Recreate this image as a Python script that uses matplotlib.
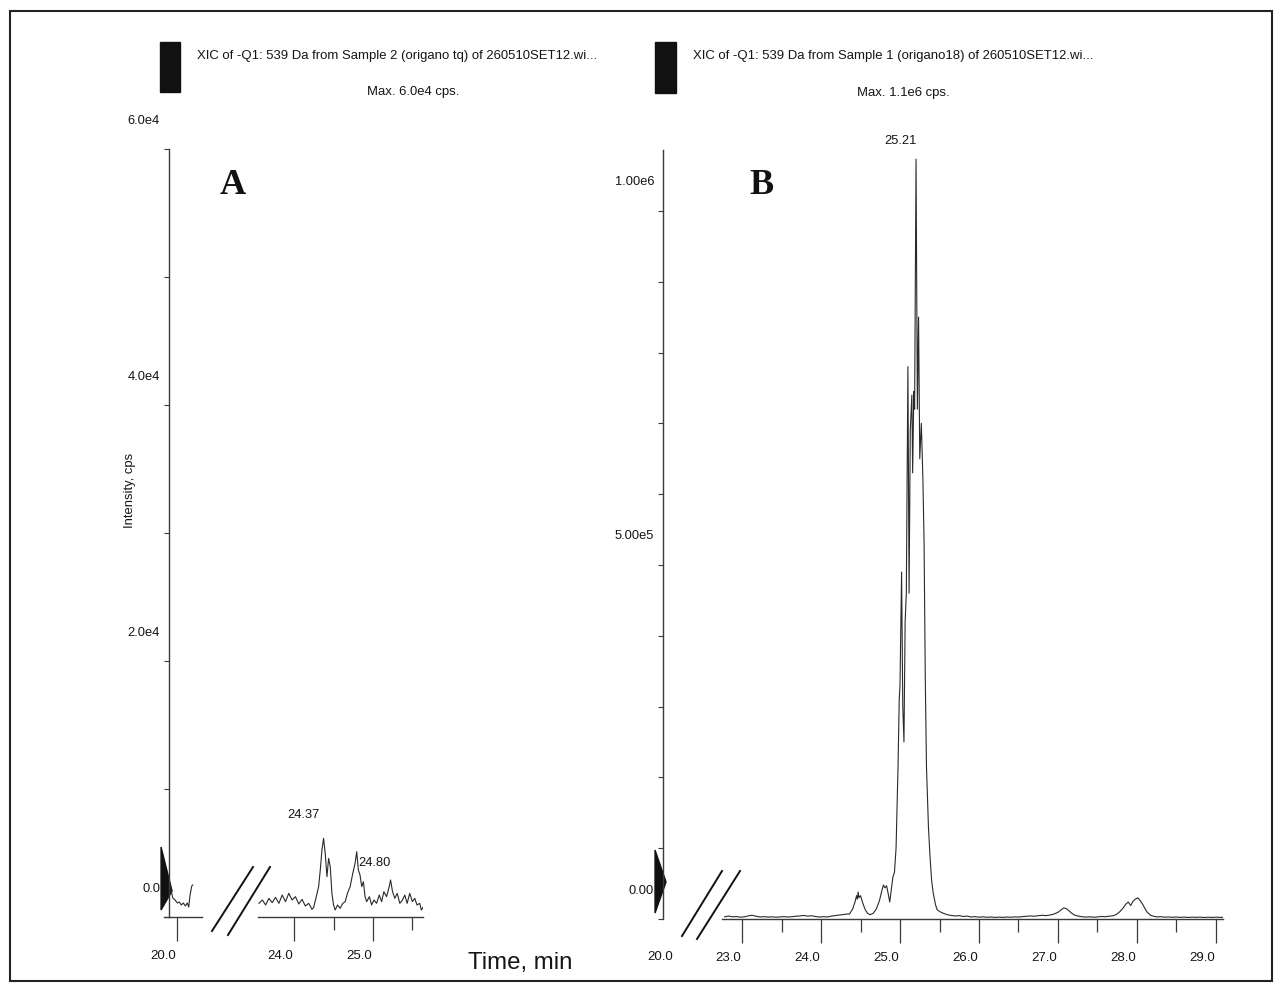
import matplotlib
matplotlib.use("Agg")
import matplotlib.pyplot as plt
from matplotlib.patches import Rectangle, Polygon
from matplotlib.lines import Line2D
from matplotlib.transforms import ScaledTranslation, Affine2D

plt.rcParams['font.family'] = ['Liberation Sans', 'DejaVu Sans']

# panel A, first piece of the broken time axis (around 20 min)
a1_time = [19.911, 19.946, 19.975, 20.004, 20.029, 20.054, 20.080, 20.105, 20.130, 20.148, 20.165, 20.186, 20.199]
a1_int = [2500, 1484, 1328, 1094, 1172, 938, 1094, 859, 1094, 781, 1719, 2422, 2500]

# panel A, second piece (23.5 - 25.6 min)
a2_time = [23.548, 23.591, 23.633, 23.675, 23.717, 23.759, 23.802, 23.844, 23.886, 23.928,
           23.970, 24.013, 24.055, 24.097, 24.139, 24.181, 24.224, 24.245, 24.278, 24.308,
           24.329, 24.350, 24.371, 24.392, 24.414, 24.435, 24.456, 24.477, 24.498, 24.519,
           24.549, 24.582, 24.616, 24.646, 24.675, 24.709, 24.743, 24.772, 24.793, 24.814,
           24.835, 24.857, 24.878, 24.899, 24.920, 24.954, 24.983, 25.013, 25.046, 25.080,
           25.110, 25.139, 25.173, 25.207, 25.224, 25.249, 25.278, 25.308, 25.342, 25.376,
           25.405, 25.435, 25.468, 25.502, 25.532, 25.561, 25.595, 25.616, 25.637]
a2_int = [1068, 1328, 938, 1458, 1120, 1536, 1068, 1719, 1198, 1849,
          1328, 1589, 1016, 1380, 859, 1068, 599, 755, 1589, 2370,
          3672, 5234, 6146, 4974, 3151, 4583, 3932, 1849, 938, 547,
          938, 677, 1068, 1198, 1849, 2370, 3411, 4193, 5104, 3672,
          3281, 2370, 2760, 1589, 1198, 1589, 938, 1328, 1068, 1719,
          1198, 1979, 1589, 2370, 2891, 1979, 1458, 1849, 1068, 1328,
          1719, 1068, 1849, 1198, 1458, 938, 1068, 547, 755]

# panel B
b_time = [22.78, 22.83, 22.88, 22.93, 22.98, 23.03, 23.08, 23.13, 23.18, 23.23,
          23.28, 23.33, 23.38, 23.43, 23.48, 23.53, 23.58, 23.63, 23.68, 23.73,
          23.78, 23.83, 23.88, 23.93, 23.98, 24.03, 24.08, 24.13, 24.18, 24.23,
          24.28, 24.32, 24.36, 24.40, 24.43, 24.45, 24.46, 24.47, 24.48, 24.50,
          24.53, 24.56, 24.59, 24.62, 24.66, 24.70, 24.74, 24.77, 24.79, 24.81,
          24.83, 24.85, 24.87, 24.89, 24.91, 24.93, 24.95, 24.96, 24.975, 24.99,
          25.00, 25.02, 25.035, 25.05, 25.065, 25.08, 25.10, 25.115, 25.13, 25.15,
          25.16, 25.175, 25.185, 25.203, 25.22, 25.235, 25.25, 25.27, 25.29, 25.305,
          25.32, 25.335, 25.36, 25.38, 25.40, 25.42, 25.45, 25.47, 25.51, 25.55,
          25.60, 25.65, 25.70, 25.75, 25.80, 25.85, 25.90, 25.95, 26.00, 26.05,
          26.10, 26.15, 26.20, 26.25, 26.30, 26.35, 26.40, 26.45, 26.50, 26.55,
          26.60, 26.65, 26.70, 26.75, 26.80, 26.85, 26.90, 26.95, 27.00, 27.04,
          27.07, 27.10, 27.13, 27.17, 27.21, 27.25, 27.30, 27.35, 27.40, 27.45,
          27.50, 27.55, 27.60, 27.65, 27.70, 27.74, 27.78, 27.82, 27.86, 27.89,
          27.92, 27.95, 27.98, 28.01, 28.04, 28.07, 28.10, 28.13, 28.17, 28.21,
          28.26, 28.30, 28.35, 28.40, 28.45, 28.50, 28.55, 28.60, 28.65, 28.70,
          28.75, 28.80, 28.85, 28.90, 28.95, 29.00, 29.05, 29.09]
b_int = [3000, 4200, 3100, 3500, 2600, 3000, 4500, 5200, 3800, 2900,
         3300, 2700, 3100, 2500, 2900, 3400, 2800, 3200, 3900, 4300,
         5000, 4100, 4600, 3500, 2800, 3300, 2900, 4000, 4800, 5600,
         6200, 7000, 7000, 14000, 24000, 33000, 28000, 38000, 30000, 33000,
         22000, 13000, 8000, 6000, 8000, 14000, 26000, 40000, 48000, 44000,
         47000, 36000, 24000, 42000, 59000, 66000, 100000, 144000, 215000, 310000,
         330000, 490000, 300000, 250000, 420000, 460000, 780000, 460000, 690000, 740000,
         630000, 745000, 720000, 1073000, 720000, 850000, 650000, 700000, 620000, 530000,
         340000, 215000, 130000, 88000, 55000, 37000, 20000, 13000, 10000, 8000,
         6000, 5000, 4200, 4800, 3600, 4100, 2900, 3300, 2600, 3100,
         2400, 2900, 2200, 2700, 2300, 2800, 2500, 3000, 2700, 3400,
         3800, 4300, 3900, 4700, 5200, 4800, 5600, 7000, 9500, 13000,
         15500, 15000, 12500, 8500, 5500, 4200, 3300, 2700, 3100, 2500,
         2900, 3600, 3200, 4000, 4600, 6500, 10000, 15000, 21000, 24000,
         19000, 25000, 28000, 30000, 26000, 21000, 15000, 9500, 5500, 3800,
         2900, 3300, 2600, 2900, 2400, 2800, 2300, 2700, 2200, 2600,
         2300, 2700, 2100, 2500, 2200, 2600, 2300, 2400]

# peak labels (time, height, text)
a_peaks = [(24.371, 6146, '24.37'), (24.793, 5104, '24.80')]
b_peaks = [(25.203, 1073000, '25.21')]

a_yticks = [0, 2.0e4, 4.0e4, 6.0e4]
a_ylabels = ['0.0', '2.0e4', '4.0e4', '6.0e4']
b_yticks = [0, 5.0e5, 1.0e6]
b_ylabels = ['0.00', '5.00e5', '1.00e6']
b_xticks = [23.0, 24.0, 25.0, 26.0, 27.0, 28.0, 29.0]

W, H = 1282, 992
trace = '#2a2a2a'
axcol = '#3a3a3a'
txt = '#151515'

fig = plt.figure(figsize=(W / 100, H / 100), dpi=100)
fig.patch.set_facecolor('white')


def px_box(x0, y0, x1, y1):
    # pixel box (top-left origin) -> figure fraction
    return [x0 / W, 1 - y1 / H, (x1 - x0) / W, (y1 - y0) / H]


def shift(labels, dx, dy):
    # move tick labels by some pixels (like the software output)
    off = ScaledTranslation(dx / 100, dy / 100, fig.dpi_scale_trans)
    for lab in labels:
        lab.set_transform(lab.get_transform() + off)


def style(ax):
    ax.set_facecolor('none')
    for s in ['top', 'right']:
        ax.spines[s].set_visible(False)
    for s in ['left', 'bottom']:
        ax.spines[s].set_color(axcol)
        ax.spines[s].set_linewidth(1.0)
    ax.tick_params(axis='x', which='major', direction='out', length=17.5, width=0.9,
                   color=axcol, labelsize=9.5, pad=2, labelcolor=txt)
    ax.tick_params(axis='x', which='minor', direction='out', length=9.5, width=0.9, color=axcol)
    ax.tick_params(axis='y', which='both', direction='out', length=3.5, width=0.8,
                   color=axcol, labelsize=9.3, pad=3, labelcolor=txt)


def marker(ax, x0, verts):
    # the black threshold triangle drawn at the bottom of the y axis
    tr = Affine2D() + ScaledTranslation(x0, 0, ax.transData)
    ax.add_patch(Polygon(verts, closed=True, transform=tr, color='#111111', clip_on=False))


# ---------------- panel A ----------------
axA1 = fig.add_axes(px_box(164, 149, 202, 917))
axA2 = fig.add_axes(px_box(258, 149, 423, 917))
for ax in [axA1, axA2]:
    style(ax)
    ax.set_ylim(0, 6.0e4)

axA1.plot(a1_time, a1_int, color=trace, lw=0.8)
axA1.set_xlim(19.835, 20.316)
axA1.spines['left'].set_position(('data', 19.899))
axA1.set_xticks([20.0])
axA1.set_xticklabels(['20.0'])
axA1.set_yticks(a_yticks)
axA1.set_yticklabels(a_ylabels)
axA1.set_yticks([1.0e4, 3.0e4, 5.0e4], minor=True)
marker(axA1, 19.899, [(-8, 70), (-8, 7), (3, 26)])

axA2.plot(a2_time, a2_int, color=trace, lw=0.8)
axA2.set_xlim(23.536, 25.637)
axA2.spines['left'].set_visible(False)
axA2.set_yticks([])
axA2.set_xticks([24.0, 25.0])
axA2.set_xticklabels(['24.0', '25.0'])
axA2.set_xticks([24.5, 25.5], minor=True)
for t, v, s in a_peaks:
    dx, dy = (-20, 23) if s == '24.37' else (18, -11)
    axA2.annotate(s, xy=(t, v), xytext=(dx, dy), textcoords='offset pixels',
                  ha='center', va='center', fontsize=9.3, color=txt)

shift(axA1.get_yticklabels(), 0, 30)
shift(axA1.get_xticklabels(), -14, -6)
shift(axA2.get_xticklabels(), -14, -6)

# ---------------- panel B ----------------
axB = fig.add_axes(px_box(650, 150, 1223, 919))
style(axB)
axB.plot(b_time, b_int, color=trace, lw=0.8)
axB.set_xlim(21.835, 29.089)
axB.set_ylim(0, 1.086e6)
axB.spines['left'].set_position(('data', 22.0))
axB.spines['bottom'].set_bounds(22.75, 29.089)
axB.set_xticks(b_xticks)
axB.set_xticklabels(['%.1f' % v for v in b_xticks])
axB.set_xticks([23.5, 24.5, 25.5, 26.5, 27.5, 28.5], minor=True)
axB.set_yticks(b_yticks)
axB.set_yticklabels(b_ylabels)
axB.set_yticks([1e5, 2e5, 3e5, 4e5, 6e5, 7e5, 8e5, 9e5], minor=True)
axB.annotate('20.0', xy=(22.0, 0), xytext=(-3, -38), textcoords='offset pixels',
             ha='center', va='center', fontsize=9.5, color=txt, annotation_clip=False)
for t, v, s in b_peaks:
    axB.annotate(s, xy=(t, v), xytext=(-16, 18), textcoords='offset pixels',
                 ha='center', va='center', fontsize=9.3, color=txt)
marker(axB, 22.0, [(-8, 69), (-8, 6), (3, 37)])

shift(axB.get_yticklabels(), 0, 30)
shift(axB.get_xticklabels(), -14, -6)

# ---------------- headers, labels, decorations ----------------
fig.add_artist(Rectangle((10 / W, 1 - 981 / H), 1262 / W, 970 / H, transform=fig.transFigure,
                         fill=False, lw=1.5, ec='#222222'))
fig.add_artist(Rectangle((160 / W, 1 - 92 / H), 20 / W, 50 / H, transform=fig.transFigure, color='#111111'))
fig.add_artist(Rectangle((655 / W, 1 - 93 / H), 21 / W, 51 / H, transform=fig.transFigure, color='#111111'))

fig.text(197 / W, 1 - 56 / H, 'XIC of -Q1: 539 Da from Sample 2 (origano tq) of 260510SET12.wi...',
         ha='left', va='center', fontsize=9.45, color=txt)
fig.text(413 / W, 1 - 92 / H, 'Max. 6.0e4 cps.', ha='center', va='center', fontsize=9.45, color=txt)
fig.text(693 / W, 1 - 56 / H, 'XIC of -Q1: 539 Da from Sample 1 (origano18) of 260510SET12.wi...',
         ha='left', va='center', fontsize=9.45, color=txt)
fig.text(903 / W, 1 - 93 / H, 'Max. 1.1e6 cps.', ha='center', va='center', fontsize=9.45, color=txt)

fig.text(233 / W, 1 - 185 / H, 'A', ha='center', va='center', fontsize=26, fontweight='bold',
         family=['Liberation Serif', 'DejaVu Serif'], color='#111111')
fig.text(762 / W, 1 - 185 / H, 'B', ha='center', va='center', fontsize=26, fontweight='bold',
         family=['Liberation Serif', 'DejaVu Serif'], color='#111111')

fig.text(130 / W, 1 - 490 / H, 'Intensity, cps', rotation=90, ha='center', va='center',
         fontsize=9.4, color=txt)
fig.text(520 / W, 1 - 963 / H, 'Time, min', ha='center', va='center', fontsize=17.3, color=txt)

# axis break marks
for (x0, y0, x1, y1) in [(212, 931, 253, 867), (228, 935, 270, 867),
                         (682, 936, 722, 871), (697, 939, 740, 871)]:
    fig.add_artist(Line2D([x0 / W, x1 / W], [1 - y0 / H, 1 - y1 / H], transform=fig.transFigure,
                          lw=1.4, color='#111111'))

fig.savefig('out.png', dpi=100)
